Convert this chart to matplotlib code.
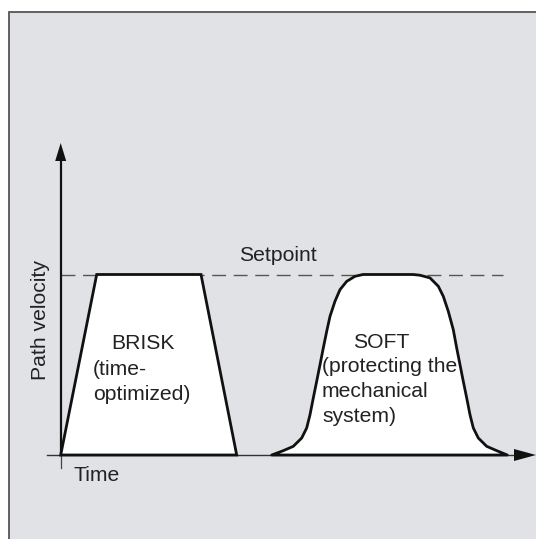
import matplotlib
matplotlib.use("Agg")
import matplotlib.pyplot as plt
from matplotlib.patches import Polygon, Rectangle

plt.rcParams['font.family'] = ['Liberation Sans', 'DejaVu Sans']

# ---- data (time in arbitrary units, velocity relative to setpoint) ----
setpoint = 1.0
brisk_t = [0.0, 3.6, 14.03, 17.6]
brisk_v = [0.0, 1.0, 1.0, 0.0]

soft_t = [21.10, 22.26, 23.26, 24.10, 24.60, 24.93, 25.26, 25.60, 25.93, 26.26,
          26.60, 26.93, 27.43, 27.93, 28.60, 29.43, 30.23, 35.23, 35.93, 36.93,
          37.76, 38.26, 38.76, 39.26, 39.60, 39.93, 40.26, 40.60, 40.93, 41.26,
          41.76, 42.60, 43.60, 44.66]
soft_v = [0.0, 0.024, 0.048, 0.094, 0.150, 0.223, 0.316, 0.409, 0.500, 0.593,
          0.685, 0.768, 0.852, 0.916, 0.962, 0.990, 1.0, 1.0, 0.996, 0.981,
          0.935, 0.879, 0.796, 0.694, 0.593, 0.500, 0.408, 0.316, 0.223, 0.150,
          0.094, 0.048, 0.024, 0.0]

labels = {
    'y': 'Path velocity',
    'x': 'Time',
    'setpoint': 'Setpoint',
    'brisk': 'BRISK',
    'brisk_sub': ['(time-', 'optimized)'],
    'soft': 'SOFT',
    'soft_sub': ['(protecting the', 'mechanical', 'system)'],
}

# ---- layout ----
W, H = 536, 539
fig = plt.figure(figsize=(W / 100, H / 100), dpi=100)
ax = fig.add_axes([0, 0, 1, 1])
ox, oy = 60.7, 455.0      # pixel of origin
sx, sy = 10.0, 180.5      # pixels per unit
ax.set_xlim(-ox / sx, (W - ox) / sx)
ax.set_ylim(-(H - oy) / sy, oy / sy)
ax.axis('off')


def px(x, y):
    return ((x - ox) / sx, (oy - y) / sy)


# background panel
x0, y0 = px(9.3, 11.7)
x1, y1 = px(W + 5, H + 5)
ax.add_patch(Rectangle((x0, y1), x1 - x0, y0 - y1, facecolor='#e0e2e6',
                       edgecolor='#555555', linewidth=1.3, zorder=0))

ink = '#111111'
# x axis (thin), y axis
xa0, ya = px(47, oy)
xa1, _ = px(516, oy)
ax.plot([xa0, xa1], [ya, ya], color='#333333', lw=1.0, zorder=2)
_, yb = px(ox, 468)
_, yt = px(ox, 158)
ax.plot([0, 0], [yb, 0], color='#444444', lw=0.9, zorder=2)
ax.plot([0, 0], [0, yt], color=ink, lw=1.6, zorder=3)
# arrow heads
ax.add_patch(Polygon([px(ox, 143), px(ox - 5.5, 161), px(ox + 5.5, 161)],
                     closed=True, facecolor=ink, edgecolor='none', zorder=4))
ax.add_patch(Polygon([px(536, oy), px(514, oy - 6), px(514, oy + 6)],
                     closed=True, facecolor=ink, edgecolor='none', zorder=4))

# setpoint dashed line
xs_end, _ = px(503, 0)
ax.plot([0, xs_end], [setpoint, setpoint], color='#555555', lw=1.0,
        dashes=(10, 5.5), zorder=1)

# profiles
ax.add_patch(Polygon(list(zip(brisk_t, brisk_v)), closed=True, facecolor='white',
                     edgecolor=ink, linewidth=2.0, joinstyle='miter', zorder=3))
ax.add_patch(Polygon(list(zip(soft_t, soft_v)), closed=True, facecolor='white',
                     edgecolor=ink, linewidth=2.0, joinstyle='round', zorder=3))

# texts
tc = '#222222'
fs = 15.2
ax.text(*px(278, 261), labels['setpoint'], fontsize=fs, color=tc, ha='center', va='baseline', zorder=5)
ax.text(*px(41, 320), labels['y'], fontsize=fs, color=tc, ha='center', va='center',
        rotation=90, zorder=5)
ax.text(*px(73, 481), labels['x'], fontsize=fs, color=tc, ha='left', va='baseline', zorder=5)
ax.text(*px(111, 349), labels['brisk'], fontsize=fs, color=tc, ha='left', va='baseline', zorder=5)
for i, s in enumerate(labels['brisk_sub']):
    ax.text(*px(93, 375 + 25 * i), s, fontsize=fs, color=tc, ha='left', va='baseline', zorder=5)
ax.text(*px(353, 348), labels['soft'], fontsize=fs, color=tc, ha='left', va='baseline', zorder=5)
for i, s in enumerate(labels['soft_sub']):
    ax.text(*px(322, 372 + 25 * i), s, fontsize=fs, color=tc, ha='left', va='baseline', zorder=5)

fig.savefig('out.png', dpi=100)
